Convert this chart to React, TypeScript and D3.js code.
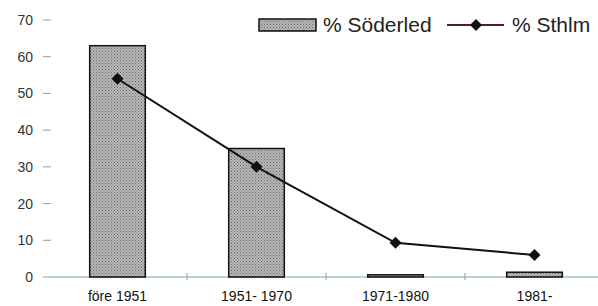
import React, { useEffect, useRef } from 'react';
import * as d3 from 'd3';

const categories = ['före 1951', '1951- 1970', '1971-1980', '1981-'];
const soderled = [63, 35, 0.6, 1.3];
const sthlm = [54, 30, 9.3, 6];
const yTicks = [0, 10, 20, 30, 40, 50, 60, 70];

const App = () => {
  const ref = useRef<SVGSVGElement>(null);

  useEffect(() => {
    const svg = d3.select(ref.current);
    svg.selectAll('*').remove();

    const font = '"Liberation Sans", Arial, sans-serif';

    const x = d3.scaleBand<string>().domain(categories).range([48, 604]).paddingInner(0.6).paddingOuter(0.3);
    const xc = (c: string) => (x(c) || 0) + x.bandwidth() / 2;
    const y = d3.scaleLinear().domain([0, 70]).range([277, 20]);

    const defs = svg.append('defs');
    const pat = defs.append('pattern')
      .attr('id', 'dots')
      .attr('width', 3)
      .attr('height', 3)
      .attr('patternUnits', 'userSpaceOnUse');
    pat.append('rect').attr('width', 3).attr('height', 3).attr('fill', '#b8b8b8');
    pat.append('rect').attr('width', 1).attr('height', 1).attr('fill', '#666');
    pat.append('rect').attr('x', 1.5).attr('y', 1.5).attr('width', 1).attr('height', 1).attr('fill', '#777');

    // y axis
    const ya = svg.append('g');
    yTicks.forEach(t => {
      ya.append('line')
        .attr('x1', 43).attr('x2', 51)
        .attr('y1', y(t)).attr('y2', y(t))
        .attr('stroke', '#999').attr('stroke-width', 1);
      ya.append('text')
        .attr('x', 33).attr('y', y(t) + 5)
        .attr('text-anchor', 'end')
        .attr('font-family', font).attr('font-size', 14)
        .attr('fill', '#333')
        .text(t);
    });

    // baseline
    svg.append('line')
      .attr('x1', 48).attr('x2', 598)
      .attr('y1', y(0)).attr('y2', y(0))
      .attr('stroke', '#b8d8c0').attr('stroke-width', 2);

    // x ticks between categories
    categories.slice(1).forEach(c => {
      const bx = (x(c) || 0) - (x.step() - x.bandwidth()) / 2;
      svg.append('line')
        .attr('x1', bx).attr('x2', bx)
        .attr('y1', y(0) - 4).attr('y2', y(0) + 3)
        .attr('stroke', '#999');
    });

    // bars
    svg.selectAll('.bar')
      .data(soderled)
      .enter()
      .append('rect')
      .attr('x', (_, i) => x(categories[i]) || 0)
      .attr('y', d => y(d))
      .attr('width', x.bandwidth())
      .attr('height', d => y(0) - y(d))
      .attr('fill', 'url(#dots)')
      .attr('stroke', '#111')
      .attr('stroke-width', 1.5);

    // line
    const line = d3.line<number>()
      .x((_, i) => xc(categories[i]))
      .y(d => y(d));
    svg.append('path')
      .datum(sthlm)
      .attr('fill', 'none')
      .attr('stroke', '#111')
      .attr('stroke-width', 2)
      .attr('d', line);

    const diamond = d3.symbol().type(d3.symbolSquare).size(72);
    svg.selectAll('.pt')
      .data(sthlm)
      .enter()
      .append('path')
      .attr('transform', (d, i) => `translate(${xc(categories[i])},${y(d)}) rotate(45)`)
      .attr('d', diamond)
      .attr('fill', '#111');

    // x labels
    svg.selectAll('.xl')
      .data(categories)
      .enter()
      .append('text')
      .attr('x', d => xc(d))
      .attr('y', 301)
      .attr('text-anchor', 'middle')
      .attr('font-family', font)
      .attr('font-size', 14)
      .attr('fill', '#111')
      .text(d => d);

    // legend
    const lg = svg.append('g');
    lg.append('rect')
      .attr('x', 259).attr('y', 19).attr('width', 57).attr('height', 12)
      .attr('fill', 'url(#dots)').attr('stroke', '#111').attr('stroke-width', 1.5);
    lg.append('text')
      .attr('x', 323).attr('y', 32)
      .attr('font-family', font).attr('font-size', 21).attr('fill', '#222')
      .text('% Söderled');
    lg.append('line')
      .attr('x1', 447).attr('x2', 504).attr('y1', 25).attr('y2', 25)
      .attr('stroke', '#5a1a2a').attr('stroke-width', 2);
    lg.append('path')
      .attr('transform', 'translate(476,25) rotate(45)')
      .attr('d', diamond)
      .attr('fill', '#111');
    lg.append('text')
      .attr('x', 512).attr('y', 32)
      .attr('font-family', font).attr('font-size', 21).attr('fill', '#222')
      .text('% Sthlm');
  }, []);

  return <svg ref={ref} width={598} height={306} style={{ position: 'absolute', left: 0, top: 0, background: '#fff' }} />;
};

export default App;
